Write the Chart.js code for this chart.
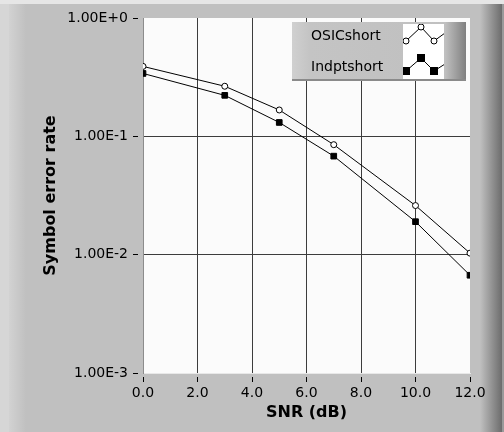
<!DOCTYPE html>
<html>
<head>
<meta charset="utf-8">
<script src="https://cdn.jsdelivr.net/npm/chart.js@4/dist/chart.umd.min.js"></script>
<style>
  html, body { margin: 0; padding: 0; background: #c0c0c0; }
  #wrap { width: 504px; height: 432px; }
</style>
</head>
<body>
<div id="wrap"><canvas id="serChart" width="504" height="432"></canvas></div>
<script>
// Data
const snr = [0, 3, 5, 7, 10, 12];
const osicShort = [0.39, 0.265, 0.167, 0.085, 0.026, 0.0103];
const indptShort = [0.34, 0.222, 0.131, 0.068, 0.019, 0.0067];
const seriesNames = ["OSICshort", "Indptshort"];
const yTicks = [1e-3, 1e-2, 1e-1, 1];
const yTickLabels = ["1.00E-3", "1.00E-2", "1.00E-1", "1.00E+0"];

const tickFont = { family: "DejaVu Sans", size: 14 };
const titleFont = { family: "DejaVu Sans", size: 16, weight: "bold" };

function toPoints(xs, ys) {
    return xs.map((x, i) => ({ x: x, y: ys[i] }));
}

// hide grid lines that sit on the plot border
function gridColor(ctx) {
    const n = ctx.scale.ticks.length;
    if (ctx.index === 0 || ctx.index === n - 1) return "rgba(0,0,0,0)";
    return "#3c3c3c";
}

// Panel frame behind everything
const framePlugin = {
    id: "frame",
    beforeDraw(chart) {
        const c = chart.ctx;
        const w = chart.width, h = chart.height;
        c.save();
        c.fillStyle = "#c0c0c0";
        c.fillRect(0, 0, w, h);
        // left light edge
        c.fillStyle = "#d6d6d6";
        c.fillRect(0, 0, 9, h);
        let g = c.createLinearGradient(9, 0, 26, 0);
        g.addColorStop(0, "#d2d2d2");
        g.addColorStop(1, "#c0c0c0");
        c.fillStyle = g;
        c.fillRect(9, 0, 17, h);
        // right dark edge
        g = c.createLinearGradient(480, 0, 502, 0);
        g.addColorStop(0, "#c0c0c0");
        g.addColorStop(1, "#6c6c6c");
        c.fillStyle = g;
        c.fillRect(480, 0, 22, h);
        c.fillStyle = "#9a9a9a";
        c.fillRect(502, 0, 2, h);
        // top light strip
        c.fillStyle = "#e6e6e6";
        c.fillRect(0, 0, w, 4);
        // plot background
        const a = chart.chartArea;
        c.fillStyle = "#fbfbfb";
        c.fillRect(a.left, a.top, a.right - a.left, a.bottom - a.top);
        c.restore();
    }
};

// LabVIEW style plot legend in the top right corner
const legendPlugin = {
    id: "plotLegend",
    afterDraw(chart) {
        const c = chart.ctx;
        const x = 292, y = 22, w = 174, h = 59;
        c.save();
        let g = c.createLinearGradient(x, 0, x + w, 0);
        g.addColorStop(0, "#d0d0d0");
        g.addColorStop(0.1, "#c4c4c4");
        g.addColorStop(0.88, "#c0c0c0");
        g.addColorStop(1, "#808080");
        c.fillStyle = g;
        c.fillRect(x, y, w, h);
        c.fillStyle = "#8a8a8a";
        c.fillRect(x, y + h - 2, w, 2);
        // swatch box
        const sx = 403, sy = 24, sw = 41, sh = 55;
        c.fillStyle = "#ffffff";
        c.fillRect(sx, sy, sw, sh);
        c.font = "14px 'DejaVu Sans'";
        c.fillStyle = "#000";
        c.textBaseline = "middle";
        c.textAlign = "left";
        c.fillText(seriesNames[0], 311, 36);
        c.fillText(seriesNames[1], 311, 67);
        c.beginPath();
        c.rect(sx, sy, sw, sh);
        c.clip();
        c.strokeStyle = "#000";
        c.lineWidth = 1;
        const rows = [[41, 27], [71, 58]];
        rows.forEach((r, k) => {
            const pts = [[sx - 2, r[0] + 2], [sx + 3, r[0]], [sx + 18, r[1]], [sx + 31, r[0]], [sx + 42, r[1] + 6]];
            c.beginPath();
            pts.forEach((p, i) => i ? c.lineTo(p[0], p[1]) : c.moveTo(p[0], p[1]));
            c.stroke();
            [pts[1], pts[2], pts[3]].forEach(p => {
                if (k === 0) {
                    c.beginPath();
                    c.arc(p[0], p[1], 3, 0, Math.PI * 2);
                    c.fillStyle = "#fff";
                    c.fill();
                    c.stroke();
                } else {
                    c.fillStyle = "#000";
                    c.fillRect(p[0] - 4, p[1] - 4, 8, 8);
                }
            });
        });
        c.restore();
    }
};

const ctx = document.getElementById("serChart").getContext("2d");
new Chart(ctx, {
    type: "line",
    data: {
        datasets: [{
            label: seriesNames[0],
            data: toPoints(snr, osicShort),
            borderColor: "#000",
            borderWidth: 1,
            pointStyle: "circle",
            pointRadius: 3,
            pointBackgroundColor: "#fff",
            pointBorderColor: "#000",
            pointBorderWidth: 1
        }, {
            label: seriesNames[1],
            data: toPoints(snr, indptShort),
            borderColor: "#000",
            borderWidth: 1,
            pointStyle: "rect",
            pointRadius: 4,
            pointBackgroundColor: "#000",
            pointBorderColor: "#000",
            pointBorderWidth: 1
        }]
    },
    options: {
        responsive: false,
        animation: false,
        layout: { padding: { top: 18, right: 34, left: 0, bottom: 0 } },
        plugins: { legend: { display: false }, tooltip: { enabled: false } },
        scales: {
            x: {
                type: "linear",
                min: 0,
                max: 12,
                afterFit(scale) { scale.height = 59; },
                ticks: {
                    stepSize: 2,
                    color: "#000",
                    font: tickFont,
                    padding: 3,
                    maxRotation: 0,
                    callback: v => v.toFixed(1)
                },
                grid: {
                    color: gridColor,
                    tickColor: "#000",
                    tickLength: 9,
                    tickBorderDash: [0, 3, 6, 100]
                },
                border: { color: "#e8e8e8", width: 1 },
                title: {
                    display: true,
                    text: "SNR (dB)",
                    color: "#000",
                    font: titleFont,
                    padding: { top: 0, bottom: 10 }
                }
            },
            y: {
                type: "logarithmic",
                min: 1e-3,
                max: 1,
                afterFit(scale) { scale.width = 143; },
                afterBuildTicks(scale) {
                    scale.ticks = yTicks.map(v => ({ value: v }));
                },
                ticks: {
                    color: "#000",
                    font: tickFont,
                    padding: 5,
                    callback: (v) => yTickLabels[yTicks.indexOf(v)]
                },
                grid: {
                    color: gridColor,
                    tickColor: "#000",
                    tickLength: 10,
                    tickBorderDash: [5, 100]
                },
                border: { color: "#8c8c8c", width: 1 },
                title: {
                    display: true,
                    text: "Symbol error rate",
                    color: "#000",
                    font: titleFont,
                    padding: { top: 41, bottom: 0 }
                }
            }
        }
    },
    plugins: [framePlugin, legendPlugin]
});
</script>
</body>
</html>
